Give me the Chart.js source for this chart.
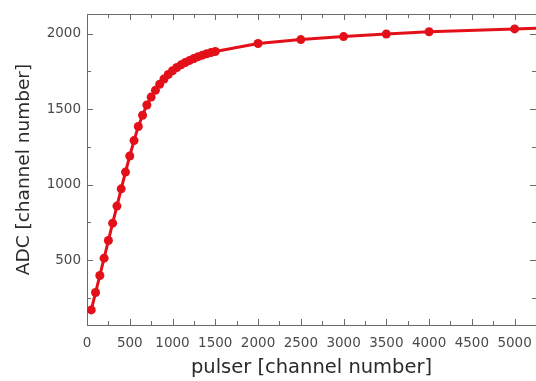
<!DOCTYPE html>
<html>
<head>
<meta charset="utf-8">
<script src="https://cdn.jsdelivr.net/npm/chart.js@4/dist/chart.umd.min.js"></script>
<style>
  html, body { margin: 0; padding: 0; background: #fff; overflow: hidden; }
  #wrap { width: 542px; height: 381px; }
</style>
</head>
<body>
<div id="wrap"><canvas id="c" width="542" height="381"></canvas></div>
<script>
// Pulser channel vs. ADC channel (linearity / saturation curve)
const pulser = [50, 100, 150, 200, 250, 300, 350, 400, 450, 500,
                550, 600, 650, 700, 750, 800, 850, 900, 950, 1000,
                1050, 1100, 1150, 1200, 1250, 1300, 1350, 1400, 1450, 1500,
                2000, 2500, 3000, 3500, 4000, 5000, 6000];
const adc = [170, 285, 398, 513, 630, 745, 858, 972, 1083, 1190,
             1292, 1385, 1460, 1528, 1580, 1625, 1665, 1700, 1730, 1755,
             1776, 1794, 1809, 1823, 1836, 1848, 1858, 1867, 1875, 1882,
             1935, 1961, 1981, 1998, 2013, 2032, 2050];

const xTicks = [0, 500, 1000, 1500, 2000, 2500, 3000, 3500, 4000, 4500, 5000];
const yTicks = [500, 1000, 1500, 2000];
const minorStep = 250;

const FONT = "'DejaVu Sans', sans-serif";
const RED = '#e3101a';
const AXIS = '#6a6a6a';

// Draws the boxed frame with inward major/minor tick marks on all four sides
const frameTicks = {
  id: 'frameTicks',
  beforeDatasetsDraw(chart) {
    const {ctx, chartArea: a, scales: {x, y}} = chart;
    ctx.save();
    ctx.strokeStyle = AXIS;
    ctx.lineWidth = 1;
    ctx.strokeRect(Math.round(a.left) + 0.5, Math.round(a.top) + 0.5,
                   Math.round(a.right - a.left), Math.round(a.bottom - a.top));
    const major = 6, minor = 4;
    ctx.beginPath();
    for (let v = Math.ceil(x.min / minorStep) * minorStep; v <= x.max; v += minorStep) {
      const px = Math.round(x.getPixelForValue(v)) + 0.5;
      const len = xTicks.includes(v) ? major : minor;
      ctx.moveTo(px, a.bottom); ctx.lineTo(px, a.bottom - len);
      ctx.moveTo(px, a.top); ctx.lineTo(px, a.top + len);
    }
    for (let v = Math.ceil(y.min / minorStep) * minorStep; v <= y.max; v += minorStep) {
      const py = Math.round(y.getPixelForValue(v)) + 0.5;
      const len = yTicks.includes(v) ? major : minor;
      ctx.moveTo(a.left, py); ctx.lineTo(a.left + len, py);
      ctx.moveTo(a.right, py); ctx.lineTo(a.right - len, py);
    }
    ctx.stroke();
    ctx.restore();
  }
};

new Chart(document.getElementById('c'), {
  type: 'line',
  data: {
    datasets: [{
      data: pulser.map((p, i) => ({x: p, y: adc[i]})),
      borderColor: RED,
      backgroundColor: RED,
      borderWidth: 3,
      pointRadius: 4.5,
      pointBackgroundColor: RED,
      pointBorderColor: RED,
      pointBorderWidth: 0,
      tension: 0,
      fill: false
    }]
  },
  options: {
    responsive: false,
    animation: false,
    events: [],
    layout: { padding: { top: 8, right: 2, left: 0, bottom: 0 } },
    plugins: { legend: { display: false }, tooltip: { enabled: false } },
    scales: {
      x: {
        type: 'linear',
        min: 0,
        max: 5250,
        afterBuildTicks: s => { s.ticks = xTicks.map(v => ({value: v})); },
        afterFit: s => { s.height = 56; },
        grid: { display: false, drawTicks: false },
        border: { display: false },
        ticks: {
          autoSkip: false, maxRotation: 0, padding: 10,
          color: '#4a4a4a', font: { family: FONT, size: 13.5 },
          callback: v => String(v)
        },
        title: {
          display: true, text: 'pulser [channel number]',
          color: '#2a2a2a', font: { family: FONT, size: 19.5 },
          padding: { top: 0, bottom: 1 }
        }
      },
      y: {
        type: 'linear',
        min: 70,
        max: 2130,
        afterBuildTicks: s => { s.ticks = yTicks.map(v => ({value: v})); },
        afterFit: s => { s.width = 87; },
        grid: { display: false, drawTicks: false },
        border: { display: false },
        ticks: {
          autoSkip: false, padding: 6,
          color: '#4a4a4a', font: { family: FONT, size: 13.5 },
          callback: v => String(v)
        },
        title: {
          display: true, text: 'ADC [channel number]',
          color: '#2a2a2a', font: { family: FONT, size: 18.5 },
          padding: { top: 13, bottom: 0 }
        }
      }
    }
  },
  plugins: [frameTicks]
});
</script>
</body>
</html>
